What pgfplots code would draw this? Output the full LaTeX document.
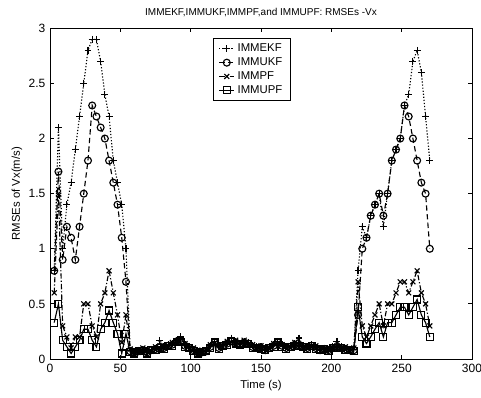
\documentclass[border=0pt]{standalone}
\usepackage{pgfplots}
\pgfplotsset{compat=1.18}
\usepackage{pgfplotstable}
\usepackage{fontspec}
\setmainfont{Liberation Sans}
\pgfplotstableread{
t ekf ukf pf upf
3 0.80 0.80 0.60 0.33
6 2.10 1.70 1.50 0.50
9 1.00 0.90 0.30 0.17
12 1.40 1.20 0.20 0.11
15 1.60 1.10 0.10 0.05
18 1.90 0.90 0.20 0.11
21 2.20 1.20 0.20 0.17
24 2.50 1.50 0.50 0.27
27 2.80 1.80 0.50 0.27
30 2.90 2.30 0.30 0.17
33 2.90 2.20 0.20 0.11
36 2.70 2.10 0.50 0.27
39 2.40 2.00 0.60 0.33
42 2.20 1.80 0.80 0.44
45 1.80 1.60 0.60 0.33
48 1.60 1.40 0.40 0.23
51 1.40 1.10 0.15 0.05
54 1.00 0.70 0.40 0.23
57 0.08 0.07 0.09 0.06
60 0.07 0.06 0.08 0.05
63 0.08 0.07 0.06 0.07
66 0.09 0.08 0.10 0.07
69 0.07 0.06 0.08 0.05
72 0.09 0.08 0.07 0.08
75 0.10 0.09 0.11 0.08
78 0.17 0.11 0.10 0.10
81 0.11 0.10 0.12 0.09
84 0.13 0.12 0.11 0.12
87 0.14 0.13 0.15 0.12
90 0.17 0.16 0.15 0.15
93 0.20 0.16 0.18 0.15
96 0.13 0.12 0.14 0.11
99 0.11 0.10 0.09 0.10
102 0.09 0.08 0.10 0.07
105 0.07 0.06 0.07 0.05
108 0.07 0.06 0.08 0.06
111 0.08 0.07 0.06 0.07
114 0.12 0.11 0.13 0.10
117 0.16 0.15 0.14 0.15
120 0.11 0.10 0.12 0.09
123 0.13 0.12 0.11 0.12
126 0.15 0.14 0.16 0.13
129 0.19 0.16 0.15 0.16
132 0.16 0.15 0.17 0.14
135 0.14 0.13 0.12 0.13
138 0.16 0.15 0.17 0.14
141 0.15 0.14 0.13 0.14
144 0.12 0.11 0.13 0.10
147 0.11 0.10 0.09 0.10
150 0.11 0.10 0.12 0.09
153 0.09 0.08 0.10 0.08
156 0.11 0.10 0.09 0.10
159 0.13 0.12 0.14 0.11
162 0.16 0.15 0.14 0.15
165 0.13 0.12 0.13 0.11
168 0.11 0.10 0.12 0.09
171 0.12 0.11 0.10 0.11
174 0.14 0.13 0.15 0.12
177 0.19 0.12 0.13 0.12
180 0.12 0.11 0.10 0.11
183 0.11 0.10 0.12 0.09
186 0.13 0.12 0.11 0.12
189 0.11 0.10 0.12 0.09
192 0.09 0.08 0.10 0.08
195 0.10 0.09 0.08 0.09
198 0.09 0.08 0.10 0.07
201 0.11 0.10 0.09 0.10
204 0.16 0.11 0.12 0.10
207 0.11 0.10 0.09 0.10
210 0.10 0.09 0.11 0.08
213 0.09 0.08 0.07 0.08
216 0.09 0.08 0.10 0.07
219 0.80 0.40 0.70 0.47
222 1.20 1.00 0.30 0.20
225 1.10 1.10 0.20 0.14
228 1.30 1.30 0.30 0.20
231 1.40 1.40 0.40 0.27
234 1.50 1.50 0.50 0.33
237 1.20 1.30 0.30 0.20
240 1.50 1.50 0.50 0.33
243 1.80 1.80 0.50 0.33
246 1.90 1.90 0.60 0.40
249 2.00 2.00 0.70 0.47
252 2.30 2.30 0.70 0.47
255 2.40 2.20 0.60 0.40
258 2.70 2.00 0.70 0.47
261 2.80 1.80 0.80 0.54
264 2.60 1.60 0.60 0.40
267 2.20 1.50 0.50 0.33
270 1.80 1.00 0.30 0.20
}\rmse
\begin{document}
\begin{tikzpicture}
\begin{axis}[
  scale only axis,
  width=316.5pt, height=248pt,
  xmin=0, xmax=300, ymin=0, ymax=3,
  xtick={0,50,...,300},
  ytick={0,0.5,...,3},
  tick align=inside,
  major tick length=3pt,
  xtick pos=both, ytick pos=both,
  axis line style={line width=0.7pt},
  tick style={line width=0.6pt, black},
  /pgf/number format/assume math mode=true,
  tick label style={font=\fontsize{9}{10.8}\selectfont},
  label style={font=\fontsize{8.5}{10}\selectfont},
  title style={font=\fontsize{7.5}{9}\selectfont, yshift=-1pt},
  title={IMMEKF,IMMUKF,IMMPF,and IMMUPF: RMSEs -Vx},
  xlabel={Time (s)},
  ylabel={RMSEs of Vx(m/s)},
  xlabel style={yshift=1pt},
  ylabel style={yshift=-2pt},
  legend style={at={(0.386,0.97)}, anchor=north west, draw=black, line width=0.6pt,
    font=\fontsize{8.5}{10}\selectfont, row sep=-1pt, inner xsep=4pt, inner ysep=2pt},
  legend cell align=left,
  legend image code/.code={\draw[mark repeat=2,mark phase=2] plot coordinates {(0cm,0cm) (0.2cm,0cm) (0.4cm,0cm)};},
  every axis plot/.append style={line width=0.85pt, black, mark size=2.6pt, mark options={solid, line width=0.85pt}},
]
\addplot[dash pattern=on 0.9pt off 1.4pt, mark=+] table[x=t, y=ekf] {\rmse};
\addlegendentry{IMMEKF}
\addplot[dash pattern=on 4pt off 2.5pt, mark=o] table[x=t, y=ukf] {\rmse};
\addlegendentry{IMMUKF}
\addplot[dash pattern=on 4pt off 1.5pt on 0.9pt off 1.5pt, mark=x] table[x=t, y=pf] {\rmse};
\addlegendentry{IMMPF}
\addplot[solid, mark=square] table[x=t, y=upf] {\rmse};
\addlegendentry{IMMUPF}
\end{axis}
\pgfresetboundingbox
\path[use as bounding box] (-37.5pt,-29.25pt) rectangle (323.25pt,269.25pt);
\end{tikzpicture}
\end{document}
